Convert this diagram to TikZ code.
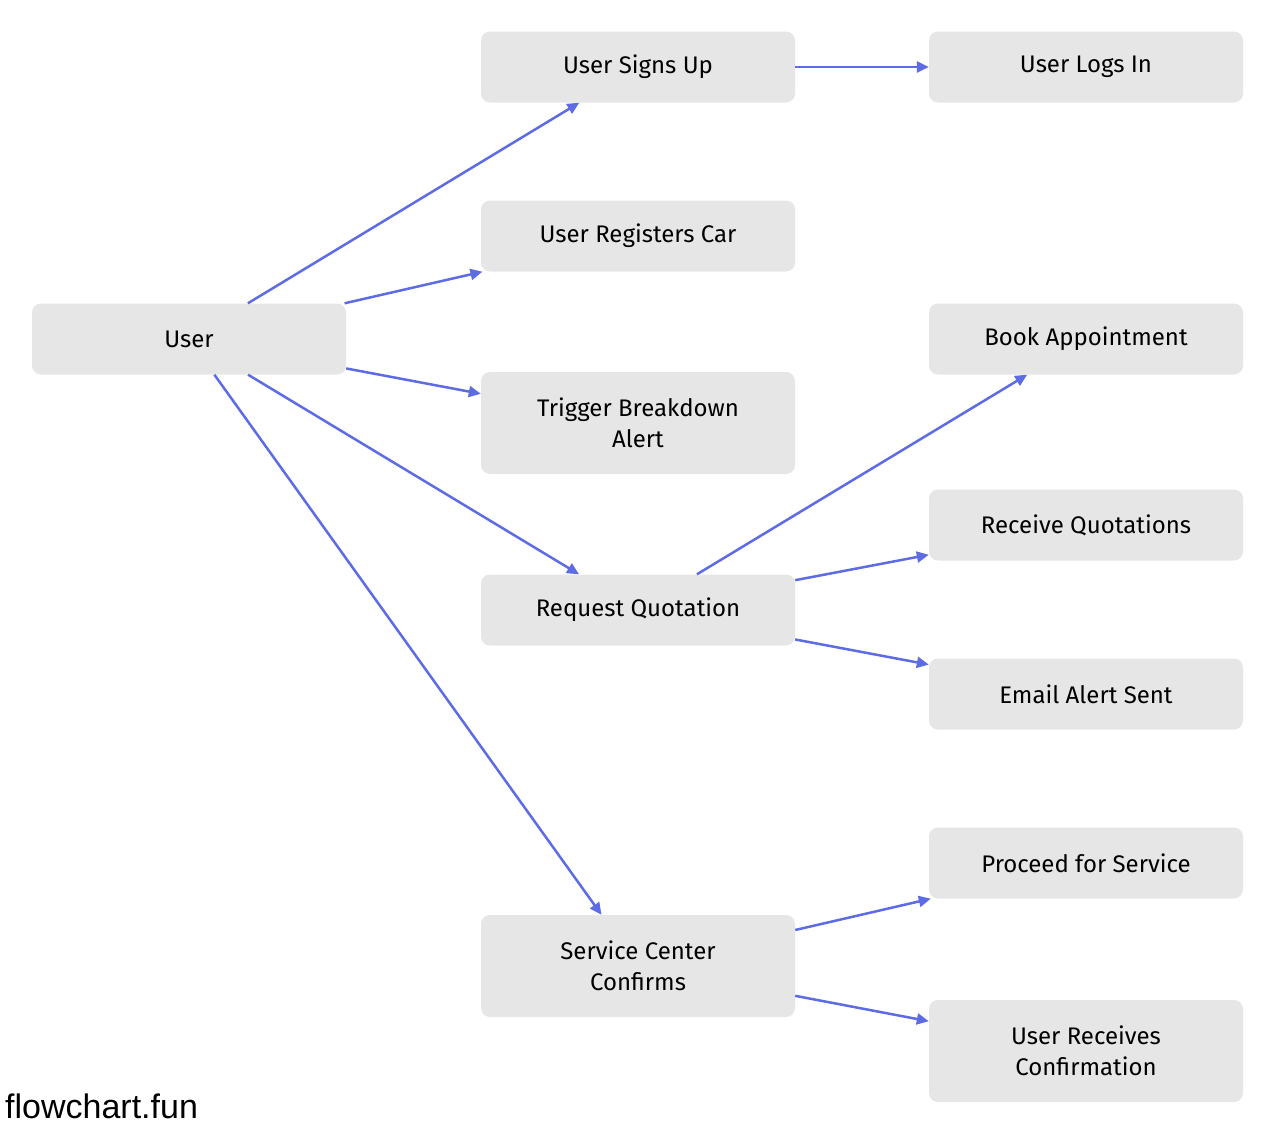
\documentclass[tikz,border=0pt]{standalone}
\usepackage{fontspec}
\setmainfont{Fira Sans}
\newfontfamily\markfont{Liberation Sans}
\usetikzlibrary{arrows.meta}
\definecolor{boxfill}{HTML}{E6E6E6}
\definecolor{edgeblue}{HTML}{5D6CE4}
\begin{document}
\begin{tikzpicture}[x=1pt,y=-1pt,
  box/.style={draw=none, fill=boxfill, rounded corners=9pt,
    minimum width=314pt, minimum height=71pt, inner sep=0pt,
    align=center, font=\fontsize{24}{31}\selectfont},
  tallbox/.style={box, minimum height=102pt},
  link/.style={draw=edgeblue, line width=2.5pt,
    -{Triangle[length=12pt,width=11pt]}}]
\useasboundingbox (0,0) rectangle (1275,1135);

% nodes
\node[box] (user) at (189,339) {User};
\node[box] (signup) at (638,67) {User Signs Up};
\node[box] (login) at (1086,67) {User Logs In};
\node[box] (regcar) at (638,236) {User Registers Car};
\node[tallbox] (alert) at (638,423) {Trigger Breakdown\\Alert};
\node[box] (book) at (1086,339) {Book Appointment};
\node[box] (reqq) at (638,610) {Request Quotation};
\node[box] (recvq) at (1086,525) {Receive Quotations};
\node[box] (email) at (1086,694) {Email Alert Sent};
\node[box] (proceed) at (1086,863) {Proceed for Service};
\node[tallbox] (sc) at (638,966) {Service Center\\Confirms};
\node[tallbox] (confirm) at (1086,1051) {User Receives\\Confirmation};

% connectors
\draw[link] (user) -- (signup);
\draw[link] (signup) -- (login);
\draw[link] (user) -- (regcar);
\draw[link] (user) -- (alert);
\draw[link] (user) -- (reqq);
\draw[link] (user) -- (sc);
\draw[link] (reqq) -- (book);
\draw[link] (reqq) -- (recvq);
\draw[link] (reqq) -- (email);
\draw[link] (sc) -- (proceed);
\draw[link] (sc) -- (confirm);

% watermark
\node[anchor=base west, inner sep=0pt, font=\markfont\fontsize{34}{40}\selectfont] (mark) at (5,1118) {flowchart.fun};
\end{tikzpicture}
\end{document}
